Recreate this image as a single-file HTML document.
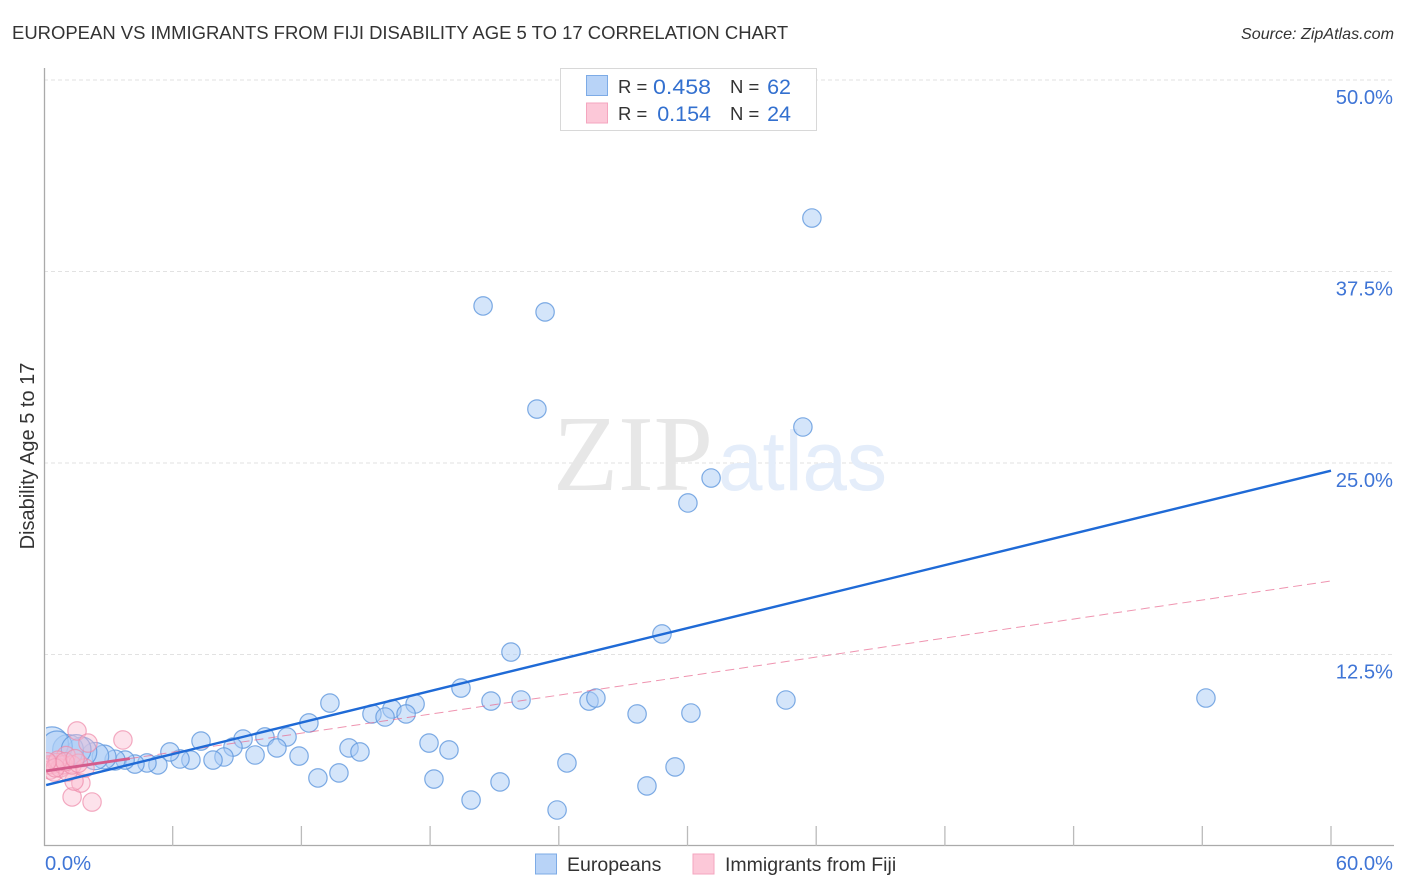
<!DOCTYPE html>
<html>
<head>
<meta charset="utf-8">
<title>European vs Immigrants from Fiji Disability Age 5 to 17 Correlation Chart</title>
<style>
html,body{margin:0;padding:0;background:#fff;}
svg{display:block;}
text{font-family:"Liberation Sans",sans-serif;}
</style>
</head>
<body>
<svg id="chart" width="1406" height="892" viewBox="0 0 1406 892" xmlns="http://www.w3.org/2000/svg">
  <defs>
    <clipPath id="plot-clip"><rect x="46" y="60" width="1350" height="786"/></clipPath>
  </defs>
  <text x="12" y="39" font-size="18.48" fill="#333">EUROPEAN VS IMMIGRANTS FROM FIJI DISABILITY AGE 5 TO 17 CORRELATION CHART</text>
  <text x="1394" y="39" font-size="16.1" font-style="italic" fill="#333" text-anchor="end">Source: ZipAtlas.com</text>
  <g id="grid"></g>
  <g>
    <text x="553" y="490" font-size="108" fill="#e7e7e7" style="font-family:'Liberation Serif',serif" textLength="160" lengthAdjust="spacingAndGlyphs">ZIP</text>
    <text x="718" y="490" font-size="84" fill="#e4edfa" textLength="169" lengthAdjust="spacingAndGlyphs">atlas</text>
  </g>
  <g id="axes"></g>
  <g id="points" clip-path="url(#plot-clip)"></g>
  <g id="trends"></g>
  <g>
    <rect x="560.5" y="68.5" width="256" height="62" fill="#fff" stroke="#d8d8d8"/>
    <rect x="586.5" y="75.5" width="21" height="20" fill="#b8d3f7" stroke="#7dabe6"/>
    <rect x="586.5" y="103" width="21" height="20" fill="#fcc8d8" stroke="#f4a6bf"/>
    <text x="618" y="93" font-size="18.5" fill="#333">R =</text>
    <text x="653" y="94" font-size="21.5" fill="#3370cf" textLength="58" lengthAdjust="spacingAndGlyphs">0.458</text>
    <text x="730" y="93" font-size="18.5" fill="#333">N =</text>
    <text x="791" y="94" font-size="21.5" fill="#3370cf" text-anchor="end">62</text>
    <text x="618" y="120" font-size="18.5" fill="#333">R =</text>
    <text x="711" y="121" font-size="21.5" fill="#3370cf" text-anchor="end">0.154</text>
    <text x="730" y="120" font-size="18.5" fill="#333">N =</text>
    <text x="791" y="121" font-size="21.5" fill="#3370cf" text-anchor="end">24</text>
  </g>
  <text transform="translate(34,456) rotate(-90)" font-size="20" fill="#333" text-anchor="middle">Disability Age 5 to 17</text>
  <g>
    <rect x="535.5" y="854" width="21" height="20" fill="#b8d3f7" stroke="#7dabe6"/>
    <text x="567" y="871" font-size="19.5" fill="#333">Europeans</text>
    <rect x="693" y="854" width="21" height="20" fill="#fcc8d8" stroke="#f4a6bf"/>
    <text x="725" y="871" font-size="19.5" fill="#333">Immigrants from Fiji</text>
  </g>
</svg>
<script>
var yTickValues = [12.5, 25, 37.5, 50];
var yTickLabels = ["12.5%", "25.0%", "37.5%", "50.0%"];
var xTickValues = [0, 6, 12, 18, 24, 30, 36, 42, 48, 54, 60];
var xEndValues = [0, 60];
var xEndLabels = ["0.0%", "60.0%"];

var europeanX = [35.80,20.47,23.36,22.98,35.38,31.10,30.02,28.81,21.77,19.44,13.33,20.84,22.24,25.41,25.73,34.59,54.17,27.65,30.16,17.30,16.22,15.29,15.90,16.88,12.35,11.33,10.30,9.28,7.32,8.81,10.86,9.84,11.89,14.22,14.73,17.95,18.88,24.38,29.42,13.75,12.77,18.18,21.26,28.11,19.91,23.92,8.39,7.88,6.85,6.34,5.87,5.31,4.80,4.24,3.78,3.31,2.80,2.38,1.77,1.12,0.37,0.60,1.50];
var europeanY = [40.99,35.25,34.86,28.52,27.35,24.02,22.39,13.84,12.66,10.31,9.33,9.46,9.53,9.46,9.66,9.53,9.66,8.62,8.68,9.27,8.94,8.62,8.42,8.62,8.03,7.12,7.12,6.98,6.85,6.46,6.40,5.94,5.87,6.40,6.14,6.72,6.27,5.42,5.16,4.77,4.44,4.37,4.18,3.92,3.00,2.35,5.81,5.61,5.61,5.68,6.14,5.29,5.42,5.35,5.61,5.61,5.81,5.87,6.14,6.27,6.70,6.50,6.30];
var europeanWeight = [1,1,1,1,1,1,1,1,1,1,1,1,1,1,1,1,1,1,1,1,1,1,1,1,1,1,1,1,1,1,1,1,1,1,1,1,1,1,1,1,1,1,1,1,1,1,1,1,1,1,1,1,1,1,1,1.2,1.7,2.2,2.6,2.8,3.2,2.8,2.6];

var fijiX = [1.54,2.05,3.68,1.31,2.24,1.72,1.40,1.03,0.37,0.28,0.19,0.47,0.61,0.75,0.89,1.12,1.31,0.65,1.91,1.60,0.52,0.98,1.45,0.14];
var fijiY = [7.51,6.72,6.92,3.20,2.87,4.11,4.24,5.90,5.30,4.96,5.29,4.83,5.45,5.09,5.30,4.83,5.29,5.60,5.09,5.40,5.10,5.50,5.70,5.50];

var europeanTrendX = [0.1, 60];
var europeanTrendY = [3.98, 24.5];
var fijiTrendX = [0.1, 60];
var fijiTrendY = [4.9, 17.3];
var fijiSolidEndX = 4;

var SVGNS = "http://www.w3.org/2000/svg";
function xScale(v) { return 44 + v * 21.45; }
function yScale(v) { return 846 - v * 15.32; }
function rScale(w) { return 9.2 * Math.sqrt(w); }
function make(parent, tag, attrs) {
  var el = document.createElementNS(SVGNS, tag);
  for (var k in attrs) el.setAttribute(k, attrs[k]);
  parent.appendChild(el);
  return el;
}

var grid = document.getElementById("grid");
var axes = document.getElementById("axes");
var pts = document.getElementById("points");
var trends = document.getElementById("trends");

yTickValues.forEach(function (v, i) {
  var line = make(grid, "line", {x1: 44, x2: 1394, y1: yScale(v), y2: yScale(v), stroke: "#e2e2e2", "stroke-width": 1, "stroke-dasharray": "4 3"});
  
  
  var t = make(axes, "text", {x: 1393, y: yScale(v) + 24, "font-size": 20.2, fill: "#3f75d6", "text-anchor": "end"});
  
  
  t.textContent = yTickLabels[i];
});

var yAxis = make(axes, "line", {x1: 44.5, x2: 44.5, y1: 68, y2: 846, stroke: "#aaaaaa", "stroke-width": 1.3});


var xAxis = make(axes, "line", {x1: 44, x2: 1394, y1: 845.5, y2: 845.5, stroke: "#aaaaaa", "stroke-width": 1.3});



xTickValues.forEach(function (v) {
  if (v === 0) return;
  var tick = make(axes, "line", {x1: xScale(v), x2: xScale(v), y1: 826, y2: 846, stroke: "#bbbbbb", "stroke-width": 1.3});
  
  
});

var xLabel0 = make(axes, "text", {x: xScale(xEndValues[0]) + 1, y: 870, "font-size": 20.2, fill: "#3f75d6"});


xLabel0.textContent = xEndLabels[0];
var xLabel1 = make(axes, "text", {x: 1393, y: 870, "font-size": 20.2, fill: "#3f75d6", "text-anchor": "end"});


xLabel1.textContent = xEndLabels[1];

europeanX.forEach(function (v, i) {
  var c = make(pts, "circle", {cx: xScale(v), cy: yScale(europeanY[i]), r: rScale(europeanWeight[i]), fill: "#a9cbf5", "fill-opacity": 0.5, stroke: "#5f97dd", "stroke-opacity": 0.8, "stroke-width": 1.2});
  
  
});
fijiX.forEach(function (v, i) {
  var c = make(pts, "circle", {cx: xScale(v), cy: yScale(fijiY[i]), r: rScale(1), fill: "#fbb9cf", "fill-opacity": 0.42, stroke: "#ee8aaa", "stroke-opacity": 0.7, "stroke-width": 1.2});
  
  
});

function fijiAt(x) {
  var s = (fijiTrendY[1] - fijiTrendY[0]) / (fijiTrendX[1] - fijiTrendX[0]);
  return fijiTrendY[0] + (x - fijiTrendX[0]) * s;
}
var fijiDash = make(trends, "line", {x1: xScale(fijiSolidEndX), y1: yScale(fijiAt(fijiSolidEndX)), x2: xScale(fijiTrendX[1]), y2: yScale(fijiTrendY[1]), stroke: "#e8668f", "stroke-width": 1, "stroke-dasharray": "9 5", "stroke-opacity": 0.7});


var euroLine = make(trends, "line", {x1: xScale(europeanTrendX[0]), y1: yScale(europeanTrendY[0]), x2: xScale(europeanTrendX[1]), y2: yScale(europeanTrendY[1]), stroke: "#1f6ad6", "stroke-width": 2.4});


var fijiSolid = make(trends, "line", {x1: xScale(fijiTrendX[0]), y1: yScale(fijiTrendY[0]), x2: xScale(fijiSolidEndX), y2: yScale(fijiAt(fijiSolidEndX)), stroke: "#d45c8c", "stroke-width": 2.8});


</script>
</body>
</html>
